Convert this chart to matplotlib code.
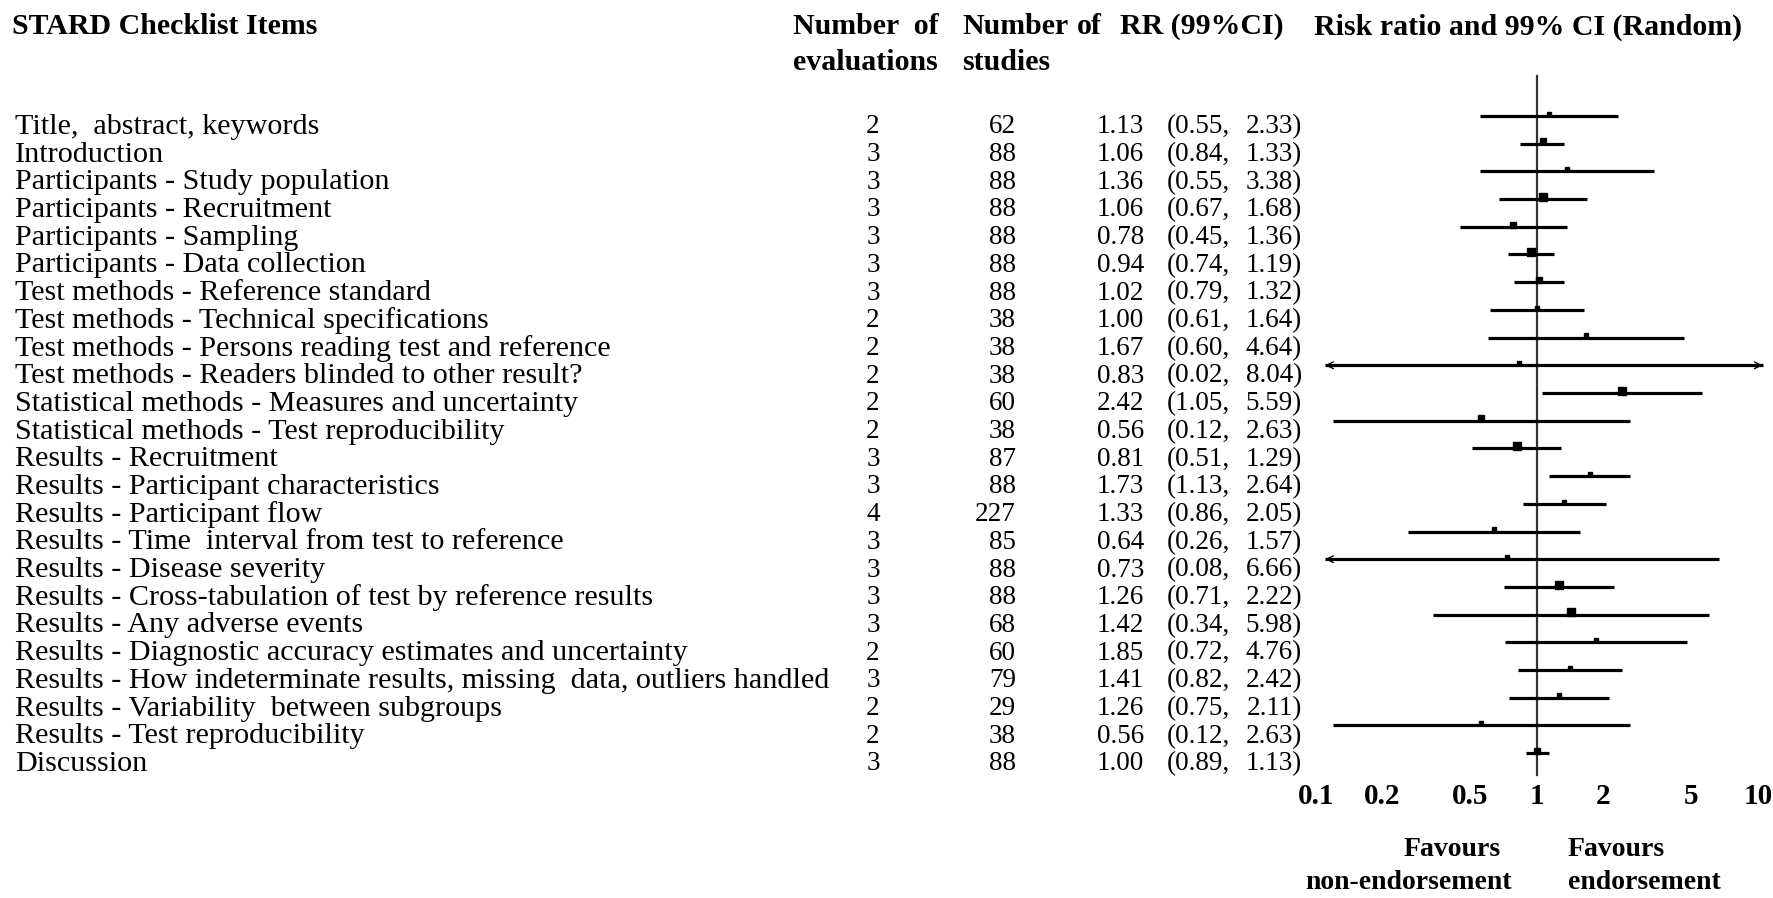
"""Forest plot of STARD checklist items: risk ratios with 99% CI."""
import matplotlib
matplotlib.use("Agg")
import matplotlib.pyplot as plt
import matplotlib.transforms as mtransforms

items = [
    "Title,  abstract, keywords",
    "Introduction",
    "Participants - Study population",
    "Participants - Recruitment",
    "Participants - Sampling",
    "Participants - Data collection",
    "Test methods - Reference standard",
    "Test methods - Technical specifications",
    "Test methods - Persons reading test and reference",
    "Test methods - Readers blinded to other result?",
    "Statistical methods - Measures and uncertainty",
    "Statistical methods - Test reproducibility",
    "Results - Recruitment",
    "Results - Participant characteristics",
    "Results - Participant flow",
    "Results - Time  interval from test to reference",
    "Results - Disease severity",
    "Results - Cross-tabulation of test by reference results",
    "Results - Any adverse events",
    "Results - Diagnostic accuracy estimates and uncertainty",
    "Results - How indeterminate results, missing  data, outliers handled",
    "Results - Variability  between subgroups",
    "Results - Test reproducibility",
    "Discussion",
]
n_evaluations = [2, 3, 3, 3, 3, 3, 3, 2, 2, 2, 2, 2, 3, 3, 4, 3, 3, 3, 3, 2, 3, 2, 2, 3]
n_studies = [62, 88, 88, 88, 88, 88, 88, 38, 38, 38, 60, 38, 87, 88, 227, 85, 88, 88, 68,
             60, 79, 29, 38, 88]
rr = [1.13, 1.06, 1.36, 1.06, 0.78, 0.94, 1.02, 1.00, 1.67, 0.83, 2.42, 0.56, 0.81, 1.73,
      1.33, 0.64, 0.73, 1.26, 1.42, 1.85, 1.41, 1.26, 0.56, 1.00]
ci_low = [0.55, 0.84, 0.55, 0.67, 0.45, 0.74, 0.79, 0.61, 0.60, 0.02, 1.05, 0.12, 0.51, 1.13,
          0.86, 0.26, 0.08, 0.71, 0.34, 0.72, 0.82, 0.75, 0.12, 0.89]
ci_high = [2.33, 1.33, 3.38, 1.68, 1.36, 1.19, 1.32, 1.64, 4.64, 8.04, 5.59, 2.63, 1.29, 2.64,
           2.05, 1.57, 6.66, 2.22, 5.98, 4.76, 2.42, 2.11, 2.63, 1.13]
# study weight -> square size
weights = [4, 5, 4, 7, 6, 7, 5, 4, 4, 4, 7, 5, 8, 4, 4, 4, 3, 8, 8, 4, 4, 4, 4, 5]
# CI runs off the scale (drawn as arrow)
arrow_left = [False] * 9 + [True] + [False] * 6 + [True] + [False] * 7
arrow_right = [False] * 9 + [True] + [False] * 14
ticks = [0.1, 0.2, 0.5, 1, 2, 5, 10]

plt.rcParams["font.family"] = ["Liberation Serif", "DejaVu Serif"]

W, H = 1774, 898
fig = plt.figure(figsize=(W / 100, H / 100), dpi=100)

# forest axes: x log scale, y = row index
x0, x1 = 1300, 1774
ax = fig.add_axes([x0 / W, 0, (x1 - x0) / W, 1])
ax.set_xscale("log")
px_dec = 221.0
ref_px = 1537.0
ax.set_xlim(10 ** ((x0 - ref_px) / px_dec), 10 ** ((x1 - ref_px) / px_dec))
row0, step = 116.0, 27.7
ax.set_ylim((H - row0) / step, -row0 / step)
ax.axis("off")

n = len(items)
clip_lo, clip_hi = 0.11, 10.5
lw_ci = 2.3

ax.plot([1, 1], [-1.45, n - 1 + 0.8], color="#333333", lw=1.6, zorder=1)

for i in range(n):
    lo = clip_lo if arrow_left[i] else ci_low[i]
    hi = clip_hi if arrow_right[i] else ci_high[i]
    ax.plot([lo, hi], [i, i], color="black", lw=lw_ci, solid_capstyle="butt", zorder=2)
    ax.plot(rr[i], i - 0.08, marker="s", ms=weights[i] * 0.8, color="black", zorder=3)
    if arrow_left[i]:
        ax.annotate("", xy=(lo, i), xytext=(lo * 1.12, i),
                    arrowprops=dict(arrowstyle="->", lw=1.0, color="black",
                                    mutation_scale=12, shrinkA=0, shrinkB=0))
    if arrow_right[i]:
        ax.annotate("", xy=(hi, i), xytext=(hi / 1.12, i),
                    arrowprops=dict(arrowstyle="->", lw=1.0, color="black",
                                    mutation_scale=12, shrinkA=0, shrinkB=0))

for t in ticks:
    ax.text(t, n + 0.58, f"{t:g}", ha="center", va="center",
            fontsize=21, fontweight="bold")

trans_fx = mtransforms.blended_transform_factory(fig.transFigure, ax.transData)
fav_y1 = (850 - row0) / step
fav_y2 = (883 - row0) / step
fav_kw = dict(transform=trans_fx, va="center", fontsize=20, fontweight="bold")
fig.text(1452 / W, fav_y1, "Favours", ha="center", **fav_kw)
fig.text(1409 / W, fav_y2, "non-endorsement", ha="center", **fav_kw)
fig.text(1568 / W, fav_y1, "Favours", ha="left", **fav_kw)
fig.text(1568 / W, fav_y2, "endorsement", ha="left", **fav_kw)

# table columns
txt_off = 0.39
lab_fs = 21.7
num_fs = 19.5
for i in range(n):
    y = i + txt_off
    fig.text(15 / W, y, items[i], transform=trans_fx, ha="left", va="center", fontsize=lab_fs)
    fig.text(873 / W, y, str(n_evaluations[i]), transform=trans_fx, ha="center",
             va="center", fontsize=num_fs)
    fig.text(1016 / W, y, str(n_studies[i]), transform=trans_fx, ha="right",
             va="center", fontsize=num_fs)
    fig.text(1144 / W, y, f"{rr[i]:.2f}", transform=trans_fx, ha="right",
             va="center", fontsize=num_fs)
    fig.text(1167 / W, y, f"({ci_low[i]:.2f},", transform=trans_fx, ha="left",
             va="center", fontsize=num_fs)
    fig.text(1302 / W, y, f"{ci_high[i]:.2f})", transform=trans_fx, ha="right",
             va="center", fontsize=num_fs)

# headers
hdr_kw = dict(va="center", fontsize=21.5, fontweight="bold")
y1, y2 = 1 - 27 / H, 1 - 62 / H
fig.text(12 / W, y1, "STARD Checklist Items", ha="left", **hdr_kw)
fig.text(793 / W, y1, "Number  of", ha="left", **hdr_kw)
fig.text(793 / W, y2, "evaluations", ha="left", **hdr_kw)
fig.text(962 / W, y1, "Number", ha="left", **hdr_kw)
fig.text(1077 / W, y1, "of", ha="left", **hdr_kw)
fig.text(962 / W, y2, "studies", ha="left", **hdr_kw)
fig.text(1120 / W, y1, "RR (99%CI)", ha="left", **hdr_kw)
fig.text(1314 / W, y1, "Risk ratio and 99% CI (Random)", ha="left", **hdr_kw)

fig.savefig("out.png", dpi=100, facecolor="white")
plt.close(fig)
